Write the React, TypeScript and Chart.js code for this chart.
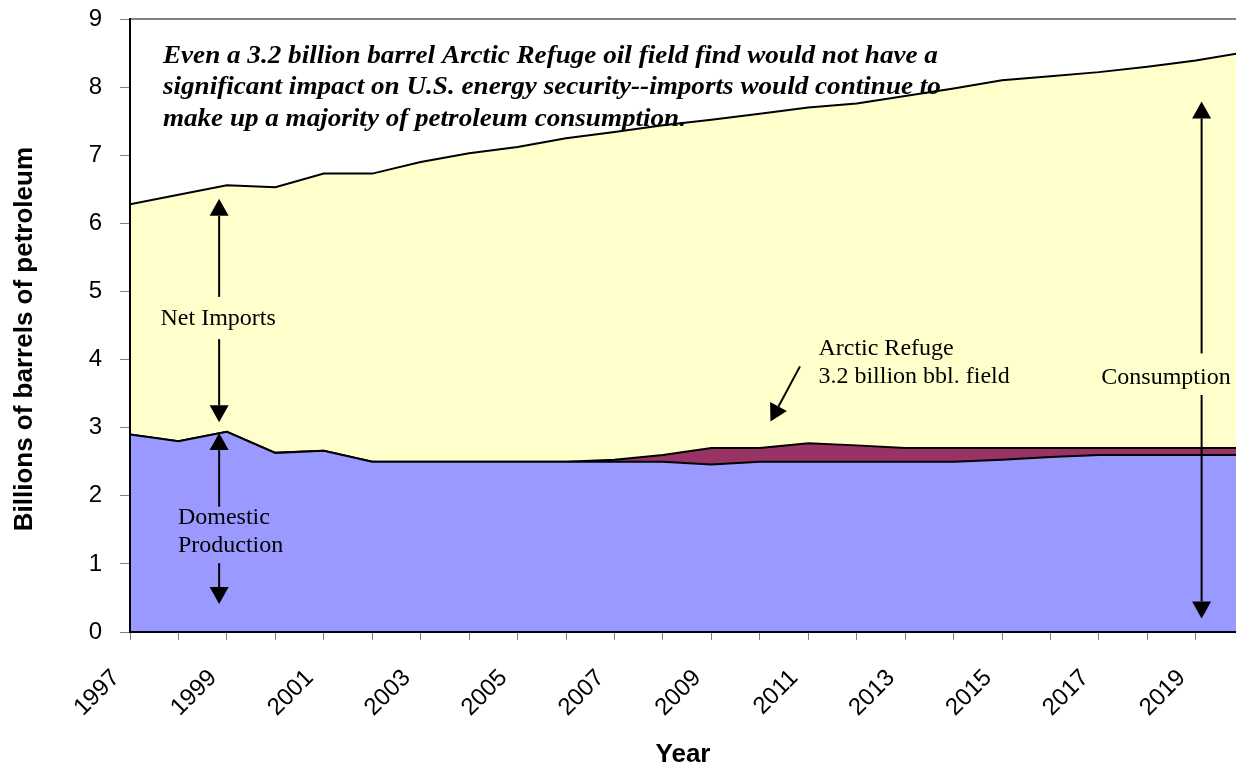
import React, { useEffect, useRef } from 'react';
import { Chart, registerables } from 'chart.js';

Chart.register(...registerables);

// ---- Data (billions of barrels of petroleum) ----
const years = [
  1997, 1998, 1999, 2000, 2001, 2002, 2003, 2004, 2005, 2006, 2007, 2008,
  2009, 2010, 2011, 2012, 2013, 2014, 2015, 2016, 2017, 2018, 2019, 2020,
];
// Top of the blue area: domestic production
const domesticProduction = [
  2.9, 2.8, 2.94, 2.63, 2.66, 2.5, 2.5, 2.5, 2.5, 2.5, 2.5, 2.5,
  2.46, 2.5, 2.5, 2.5, 2.5, 2.5, 2.53, 2.57, 2.6, 2.6, 2.6, 2.6,
];
// Top of the maroon area: domestic production plus Arctic Refuge field
const withArcticRefuge = [
  2.9, 2.8, 2.94, 2.63, 2.66, 2.5, 2.5, 2.5, 2.5, 2.5, 2.53, 2.6,
  2.7, 2.7, 2.77, 2.74, 2.7, 2.7, 2.7, 2.7, 2.7, 2.7, 2.7, 2.7,
];
// Top of the yellow area: total consumption
const consumption = [
  6.28, 6.42, 6.56, 6.53, 6.73, 6.73, 6.9, 7.03, 7.12, 7.25, 7.34, 7.44,
  7.52, 7.61, 7.7, 7.76, 7.87, 7.98, 8.1, 8.16, 8.22, 8.3, 8.39, 8.51,
];
const xTickLabels = ['1997', '1999', '2001', '2003', '2005', '2007', '2009', '2011', '2013', '2015', '2017', '2019'];
const yTicks = [0, 1, 2, 3, 4, 5, 6, 7, 8, 9];

const yAxisTitle = 'Billions of barrels of petroleum';
const noteLines = [
  'Even a 3.2 billion barrel Arctic Refuge oil field find would not have a',
  'significant impact on U.S. energy security--imports would continue to',
  'make up a majority of petroleum consumption.',
];

const COLORS = {
  domestic: '#9999FF',
  arctic: '#993366',
  imports: '#FFFFCC',
};

function drawArrow(ctx: CanvasRenderingContext2D, fx: number, fy: number, tx: number, ty: number) {
  const headLen = 17;
  const headW = 19;
  const dx = tx - fx;
  const dy = ty - fy;
  const len = Math.sqrt(dx * dx + dy * dy);
  const ux = dx / len;
  const uy = dy / len;
  const bx = tx - ux * headLen;
  const by = ty - uy * headLen;
  ctx.beginPath();
  ctx.moveTo(fx, fy);
  ctx.lineTo(bx, by);
  ctx.lineWidth = 2;
  ctx.strokeStyle = '#000';
  ctx.stroke();
  ctx.beginPath();
  ctx.moveTo(tx, ty);
  ctx.lineTo(bx - uy * headW / 2, by + ux * headW / 2);
  ctx.lineTo(bx + uy * headW / 2, by - ux * headW / 2);
  ctx.closePath();
  ctx.fillStyle = '#000';
  ctx.fill();
}

const annotationPlugin = {
  id: 'annotations',
  afterDatasetsDraw(chart: any) {
    const { ctx, chartArea } = chart;
    const x = chart.scales.x;
    const y = chart.scales.y;
    const px = (v: number) => x.getPixelForValue(v);
    const py = (v: number) => y.getPixelForValue(v);
    ctx.save();

    // plot area frame
    ctx.strokeStyle = '#808080';
    ctx.lineWidth = 2;
    ctx.beginPath();
    ctx.moveTo(chartArea.left, chartArea.top);
    ctx.lineTo(chartArea.right, chartArea.top);
    ctx.stroke();
    ctx.strokeStyle = '#000';
    ctx.beginPath();
    ctx.moveTo(chartArea.left, chartArea.top - 1);
    ctx.lineTo(chartArea.left, chartArea.bottom);
    ctx.lineTo(chartArea.right, chartArea.bottom);
    ctx.stroke();

    // y axis title
    ctx.save();
    ctx.fillStyle = '#000';
    ctx.font = 'bold 26px "Liberation Sans", Arial, sans-serif';
    ctx.textAlign = 'center';
    ctx.textBaseline = 'middle';
    ctx.translate(25, py(4.3));
    ctx.rotate(-Math.PI / 2);
    ctx.fillText(yAxisTitle, 0, 0);
    ctx.restore();

    // arrows
    drawArrow(ctx, px(1998.84), py(4.92), px(1998.84), py(6.36));
    drawArrow(ctx, px(1998.84), py(4.3), px(1998.84), py(3.08));
    drawArrow(ctx, px(1998.84), py(1.84), px(1998.84), py(2.92));
    drawArrow(ctx, px(1998.84), py(1.01), px(1998.84), py(0.41));
    drawArrow(ctx, px(2010.83), py(3.9), px(2010.22), py(3.09));
    drawArrow(ctx, px(2019.12), py(4.09), px(2019.12), py(7.79));
    drawArrow(ctx, px(2019.12), py(3.48), px(2019.12), py(0.2));

    // labels
    ctx.fillStyle = '#000';
    ctx.font = '24px "Liberation Serif", "Times New Roman", serif';
    ctx.textBaseline = 'alphabetic';
    ctx.textAlign = 'center';
    ctx.fillText('Net Imports', px(1998.82), py(4.51));
    ctx.textAlign = 'left';
    ctx.fillText('Domestic', px(1997.99), py(1.59));
    ctx.fillText('Production', px(1997.99), py(1.18));
    ctx.fillText('Arctic Refuge', px(2011.21), py(4.07));
    ctx.fillText('3.2 billion bbl. field', px(2011.21), py(3.65));
    ctx.fillText('Consumption', px(2017.05), py(3.64));

    // note
    ctx.font = 'italic bold 25px "Liberation Serif", "Times New Roman", serif';
    const targets = [775, 778, 523];
    const baselines = [8.36, 7.9, 7.43];
    noteLines.forEach((line, i) => {
      const w = ctx.measureText(line).width;
      ctx.save();
      ctx.translate(px(1997.68), py(baselines[i]));
      ctx.scale(targets[i] / w, 1);
      ctx.fillText(line, 0, 0);
      ctx.restore();
    });

    ctx.restore();
  },
};

export default function App() {
  const canvasRef = useRef<HTMLCanvasElement | null>(null);

  useEffect(() => {
    document.body.style.margin = '0';
    const canvas = canvasRef.current;
    if (!canvas) return;
    const toPoints = (arr: number[]) => arr.map((v, i) => ({ x: years[i], y: v }));
    const chart = new Chart(canvas, {
      type: 'line',
      data: {
        datasets: [
          {
            label: 'Domestic Production',
            data: toPoints(domesticProduction),
            borderColor: '#000',
            borderWidth: 2,
            backgroundColor: COLORS.domestic,
            fill: 'origin',
            pointRadius: 0,
            tension: 0,
          },
          {
            label: 'Arctic Refuge 3.2 billion bbl. field',
            data: toPoints(withArcticRefuge),
            borderColor: '#000',
            borderWidth: 2,
            backgroundColor: COLORS.arctic,
            fill: '-1',
            pointRadius: 0,
            tension: 0,
          },
          {
            label: 'Consumption',
            data: toPoints(consumption),
            borderColor: '#000',
            borderWidth: 2,
            backgroundColor: COLORS.imports,
            fill: '-1',
            pointRadius: 0,
            tension: 0,
          },
        ],
      },
      options: {
        animation: false,
        responsive: false,
        devicePixelRatio: 1,
        layout: { padding: { top: 19, left: 0, right: 0, bottom: 0 } },
        plugins: {
          legend: { display: false },
          tooltip: { enabled: false },
          title: { display: false },
        },
        scales: {
          x: {
            type: 'linear',
            min: years[0],
            max: 2019.83,
            afterFit: (scale: any) => {
              scale.height = 139;
              scale.paddingLeft = 0;
              scale.paddingRight = 0;
            },
            title: {
              display: true,
              text: 'Year',
              color: '#000',
              font: { family: '"Liberation Sans", Arial, sans-serif', size: 26, weight: 'bold' },
              padding: { top: 0, bottom: 1 },
            },
            ticks: {
              stepSize: 1,
              autoSkip: false,
              includeBounds: false,
              maxRotation: 45,
              minRotation: 45,
              padding: 24,
              labelOffset: -14,
              color: '#000',
              font: { family: '"Liberation Sans", Arial, sans-serif', size: 24 },
              callback: (value: any) => (xTickLabels.includes(String(value)) ? String(value) : ''),
            },
            grid: {
              display: true,
              drawOnChartArea: false,
              drawTicks: true,
              tickLength: 8,
              tickColor: '#808080',
              tickWidth: 1,
            },
            border: { display: true, color: '#000', width: 2 },
          },
          y: {
            type: 'linear',
            min: yTicks[0],
            max: yTicks[yTicks.length - 1],
            afterFit: (scale: any) => {
              scale.width = 130;
              scale.paddingTop = 0;
              scale.paddingBottom = 0;
            },
            title: { display: false },
            ticks: {
              stepSize: 1,
              padding: 18,
              color: '#000',
              font: { family: '"Liberation Sans", Arial, sans-serif', size: 24 },
            },
            grid: {
              display: true,
              drawOnChartArea: false,
              drawTicks: true,
              tickLength: 10,
              tickColor: '#808080',
              tickWidth: 1,
            },
            border: { display: true, color: '#000', width: 2 },
          },
        },
      },
      plugins: [annotationPlugin],
    } as any);
    return () => chart.destroy();
  }, []);

  return (
    <div style={{ position: 'fixed', left: 0, top: 0, width: 1236, height: 771, background: '#fff' }}>
      <canvas ref={canvasRef} width={1236} height={771} style={{ width: 1236, height: 771, display: 'block' }} />
    </div>
  );
}
